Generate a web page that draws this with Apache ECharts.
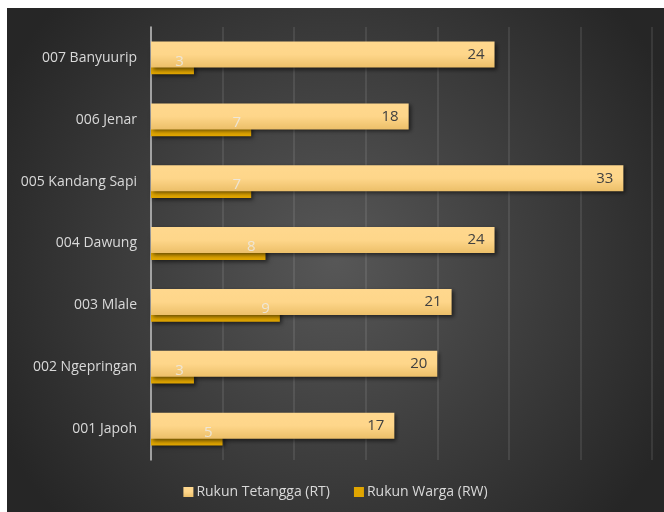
<!DOCTYPE html>
<html>
  <head>
    <meta charset="utf-8" />
    <title>RT / RW</title>
    <script src="https://cdn.jsdelivr.net/npm/echarts@6/dist/echarts.min.js"></script>
    <style>
      body { margin: 0; background: #fff; }
      #main { position: absolute; left: 7px; top: 8px; width: 657px; height: 504px; }
    </style>
  </head>
  <body>
    <div id="main"></div>
    <script type="text/javascript">
      var myChart = echarts.init(document.getElementById("main"));

      // bottom to top
      var desa = ["001 Japoh", "002 Ngepringan", "003 Mlale", "004 Dawung", "005 Kandang Sapi", "006 Jenar", "007 Banyuurip"];
      var rt = [17, 20, 21, 24, 33, 18, 24];
      var rw = [5, 3, 9, 8, 7, 7, 3];

      var font = "Open Sans";
      var shadow = {
        shadowBlur: 4,
        shadowColor: "rgba(0,0,0,0.55)",
        shadowOffsetX: 2,
        shadowOffsetY: 2
      };

      var option = {
        backgroundColor: {
          type: "radial", x: 0.5, y: 0.5, r: 0.75,
          colorStops: [
            { offset: 0, color: "#575757" },
            { offset: 1, color: "#262626" }
          ]
        },
        textStyle: { fontFamily: font },
        grid: { left: 144, right: 12, top: 19, bottom: 52 },
        legend: {
          data: ["Rukun Tetangga (RT)", "Rukun Warga (RW)"],
          bottom: 8,
          itemWidth: 10,
          itemHeight: 10,
          itemGap: 24,
          icon: "rect",
          textStyle: { color: "#d9d9d9", fontSize: 14, fontFamily: font, padding: [0, 0, 0, -2] }
        },
        xAxis: {
          type: "value",
          min: 0,
          max: 35,
          interval: 5,
          axisLabel: { show: false },
          axisLine: { show: false },
          axisTick: { show: false },
          splitLine: { lineStyle: { color: "rgba(255,255,255,0.09)", width: 2 } }
        },
        yAxis: [
          {
            type: "category",
            data: desa,
            axisTick: { show: false },
            axisLine: { lineStyle: { color: "#bfbfbf", width: 1.5 } },
            axisLabel: { color: "#d9d9d9", fontSize: 14, margin: 14, fontFamily: font }
          },
          // hidden twin axis, only to put the RW numbers above the RT bars
          { type: "category", data: desa, show: false }
        ],
        series: [
          {
            name: "Rukun Tetangga (RT)",
            type: "bar",
            data: rt,
            barWidth: 26,
            barGap: "-74%",
            z: 3,
            itemStyle: Object.assign({
              color: {
                type: "linear", x: 0, y: 0, x2: 0, y2: 1,
                colorStops: [
                  { offset: 0, color: "#ffd88e" },
                  { offset: 0.5, color: "#fed68a" },
                  { offset: 1, color: "#ecbf69" }
                ]
              }
            }, shadow),
            label: {
              show: true,
              position: "insideRight",
              distance: 10,
              color: "#404040",
              fontSize: 15,
              fontFamily: font
            }
          },
          {
            name: "Rukun Warga (RW)",
            type: "bar",
            data: rw,
            barWidth: 26,
            barGap: "-74%",
            z: 2,
            itemStyle: Object.assign({ color: "#e0a500" }, shadow)
          },
          {
            name: "slot",
            type: "bar",
            yAxisIndex: 1,
            data: [],
            barWidth: 26,
            barGap: "-74%"
          },
          {
            name: "rwLabel",
            type: "bar",
            yAxisIndex: 1,
            data: rw,
            barWidth: 26,
            barGap: "-74%",
            z: 4,
            silent: true,
            itemStyle: { color: "rgba(0,0,0,0)" },
            label: {
              show: true,
              position: "insideRight",
              distance: 10,
              color: "rgba(235,235,235,0.8)",
              fontSize: 15,
              fontFamily: font
            }
          }
        ]
      };

      myChart.setOption(option);
    </script>
  </body>
</html>
